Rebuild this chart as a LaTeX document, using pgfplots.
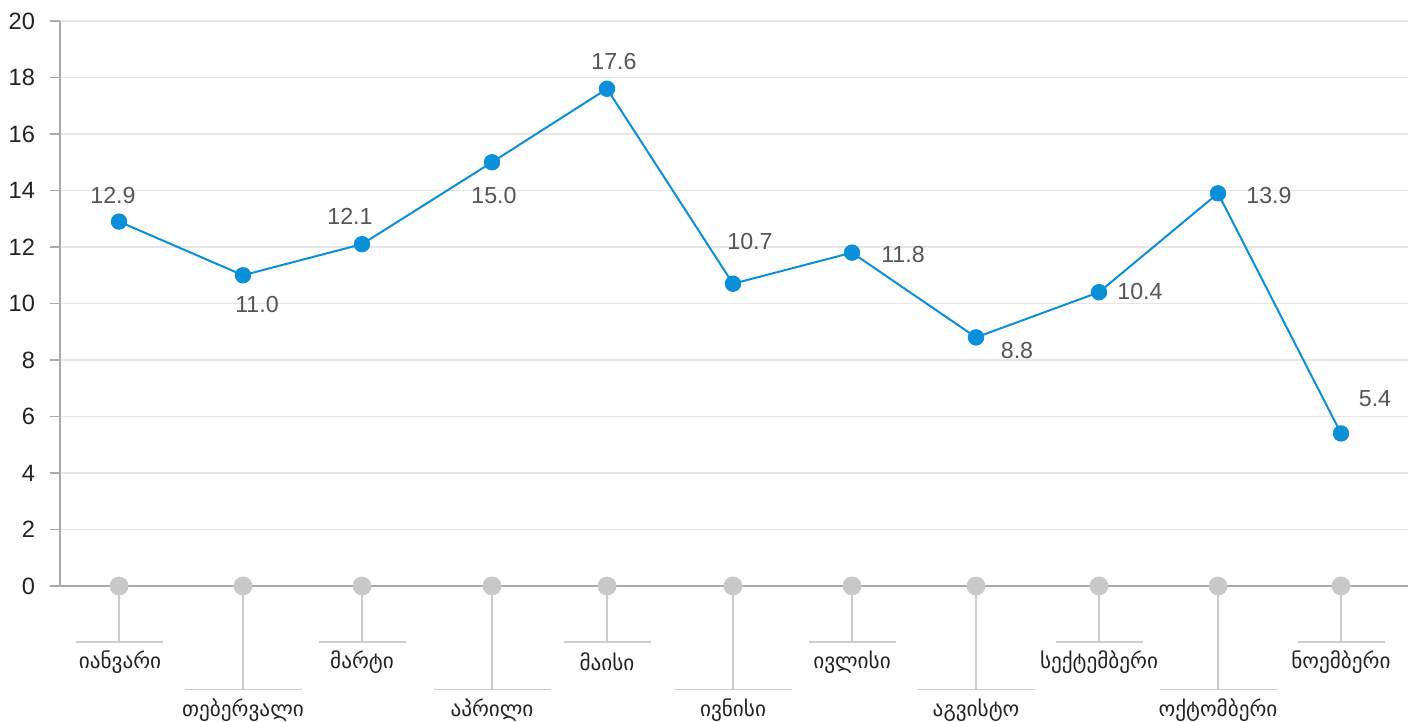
\documentclass[border=0pt]{standalone}
\usepackage{pgfplots}
\pgfplotsset{compat=1.18}
\usepackage{fontspec}
\setmainfont{Liberation Sans}
\newfontfamily\geo{DejaVu Sans}
\definecolor{lineblue}{HTML}{0A8FD8}
\definecolor{gridc}{HTML}{E6E6E6}
\definecolor{axc}{HTML}{AAAAAA}
\definecolor{dotc}{HTML}{C8C8C8}
\definecolor{stemc}{HTML}{CCCCCC}
\definecolor{tickc}{HTML}{222222}
\definecolor{labc}{HTML}{555555}
\begin{document}
\begin{tikzpicture}
\useasboundingbox (-30pt,-68pt) rectangle (674pt,293pt);
\begin{axis}[
  at={(0,0)}, anchor=south west, scale only axis,
  width=674pt, height=282.5pt,
  xmin=60, xmax=1408, ymin=0, ymax=20, clip=false,
  axis lines=left, axis line style={axc, -, line width=0.6pt},
  xtick=\empty, ytick={0,2,...,20},
  tick align=outside, major tick length=5pt,
  ytick style={axc, line width=0.6pt},
  ymajorgrids, grid style={gridc, line width=0.6pt},
  yticklabel style={font=\fontsize{11.8}{13}\selectfont, text=tickc, xshift=-4pt},
  /pgf/number format/assume math mode=true,
]
% stems from the category dots down to the label rules
\addplot[ycomb, no marks, stemc, line width=0.6pt] coordinates {
  (119,-1.98) (243,-3.65) (362,-1.98) (492,-3.65) (607,-1.98) (733,-3.65)
  (852,-1.98) (976,-3.65) (1099,-1.98) (1218,-3.65) (1341,-1.98)};
% horizontal rules above labels
\addplot[no marks, stemc, line width=0.6pt, unbounded coords=jump] coordinates {
  (75.5,-1.98) (162.5,-1.98) (0,nan)
  (184.5,-3.65) (301.5,-3.65) (0,nan)
  (318.5,-1.98) (405.5,-1.98) (0,nan)
  (433.5,-3.65) (550.5,-3.65) (0,nan)
  (563.5,-1.98) (650.5,-1.98) (0,nan)
  (674.5,-3.65) (791.5,-3.65) (0,nan)
  (808.5,-1.98) (895.5,-1.98) (0,nan)
  (917.5,-3.65) (1034.5,-3.65) (0,nan)
  (1055.5,-1.98) (1142.5,-1.98) (0,nan)
  (1159.5,-3.65) (1276.5,-3.65) (0,nan)
  (1297.5,-1.98) (1384.5,-1.98)};
% category dots
\addplot[only marks, mark=*, mark size=4.5pt, dotc, mark options={draw=dotc, fill=dotc}] coordinates {
  (119,0) (243,0) (362,0) (492,0) (607,0) (733,0)
  (852,0) (976,0) (1099,0) (1218,0) (1341,0)};
% data series
\addplot[lineblue, line width=1pt, mark=*, mark size=3.6pt, mark options={fill=lineblue, draw=lineblue}] coordinates {
  (119,12.9) (243,11.0) (362,12.1) (492,15.0) (607,17.6) (733,10.7)
  (852,11.8) (976,8.8) (1099,10.4) (1218,13.9) (1341,5.4)};
% value labels
\begin{scope}[every node/.style={font=\fontsize{11.6}{13}\selectfont, text=labc, inner sep=0pt}]
\node at (axis cs:113,13.81) {12.9};
\node at (axis cs:257,9.95) {11.0};
\node at (axis cs:350,13.10) {12.1};
\node at (axis cs:494,13.84) {15.0};
\node at (axis cs:614,18.55) {17.6};
\node at (axis cs:750,12.18) {10.7};
\node at (axis cs:903,11.72) {11.8};
\node at (axis cs:1017,8.35) {8.8};
\node at (axis cs:1140,10.41) {10.4};
\node at (axis cs:1269,13.81) {13.9};
\node at (axis cs:1375,6.65) {5.4};
\end{scope}
% category labels
\begin{scope}[every node/.style={font=\geo\fontsize{10.6}{12}\selectfont, text=tickc, inner sep=0pt}]
\node at (axis cs:120,-2.69) {იანვარი};
\node at (axis cs:243,-4.39) {თებერვალი};
\node at (axis cs:362,-2.69) {მარტი};
\node at (axis cs:492,-4.39) {აპრილი};
\node at (axis cs:607,-2.69) {მაისი};
\node at (axis cs:733,-4.39) {ივნისი};
\node at (axis cs:852,-2.69) {ივლისი};
\node at (axis cs:976,-4.39) {აგვისტო};
\node at (axis cs:1099,-2.69) {სექტემბერი};
\node at (axis cs:1218,-4.39) {ოქტომბერი};
\node at (axis cs:1341,-2.69) {ნოემბერი};
\end{scope}
\end{axis}
\end{tikzpicture}
\end{document}
